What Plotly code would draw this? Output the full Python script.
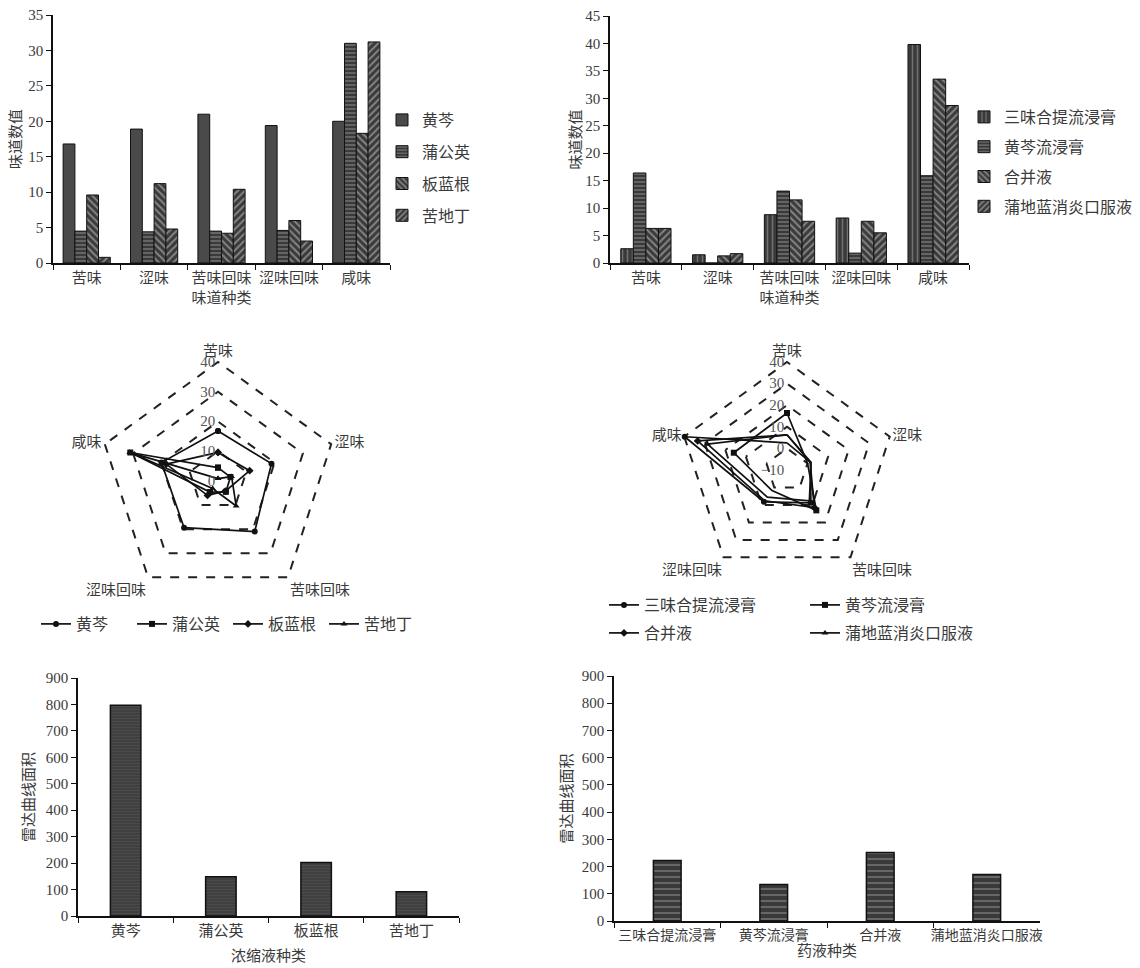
import plotly.graph_objects as go

# ---- data ----
tastes = ["苦味", "涩味", "苦味回味", "涩味回味", "咸味"]

conc_names = ["黄芩", "蒲公英", "板蓝根", "苦地丁"]
conc_huangqin = [16.8, 18.9, 21.0, 19.4, 20.0]
conc_pugongying = [4.5, 4.4, 4.5, 4.6, 31.0]
conc_banlangen = [9.6, 11.2, 4.2, 6.0, 18.3]
conc_kudiding = [0.8, 4.8, 10.4, 3.1, 31.2]

liquid_names = ["三味合提流浸膏", "黄芩流浸膏", "合并液", "蒲地蓝消炎口服液"]
liq_sanwei = [2.6, 1.5, 8.8, 8.2, 39.8]
liq_huangqin = [16.4, 0.0, 13.1, 1.8, 15.9]
liq_hebing = [6.3, 1.3, 11.5, 7.6, 33.5]
liq_pudilan = [6.3, 1.7, 7.6, 5.5, 28.7]

conc_area = [797, 148, 202, 92]
liquid_area = [222, 134, 252, 171]

# ---- styling ----
FONT = "Liberation Serif, Noto Sans CJK SC, serif"
TXT = "#3a3a3a"
W, H = 1140, 968


def fx(px):
    return px / W


def fy(py):
    return 1 - py / H


conc_series = [conc_huangqin, conc_pugongying, conc_banlangen, conc_kudiding]
liq_series = [liq_sanwei, liq_huangqin, liq_hebing, liq_pudilan]

conc_patterns = [
    dict(shape=""),
    dict(shape="-", bgcolor="#3a3a3a", fgcolor="#c8c8c8", size=4, solidity=0.3),
    dict(shape="\\", bgcolor="#3a3a3a", fgcolor="#d0d0d0", size=5, solidity=0.4),
    dict(shape="/", bgcolor="#3a3a3a", fgcolor="#d0d0d0", size=5, solidity=0.4),
]
liq_patterns = [
    dict(shape="|", bgcolor="#3a3a3a", fgcolor="#a8a8a8", size=5, solidity=0.3),
    dict(shape="-", bgcolor="#3a3a3a", fgcolor="#c8c8c8", size=4, solidity=0.3),
    dict(shape="\\", bgcolor="#3a3a3a", fgcolor="#d0d0d0", size=5, solidity=0.4),
    dict(shape="/", bgcolor="#3a3a3a", fgcolor="#d0d0d0", size=5, solidity=0.4),
]

conc_symbols = ["circle", "square", "diamond", "triangle-up"]
liq_symbols = ["circle", "square", "diamond", "triangle-up"]

fig = go.Figure()

# top-left grouped bars
for name, vals, pat in zip(conc_names, conc_series, conc_patterns):
    fig.add_trace(go.Bar(
        x=tastes, y=vals, name=name, xaxis="x", yaxis="y",
        marker=dict(color="#4a4a4a", line=dict(color="#111", width=1), pattern=pat),
        legend="legend", legendgroup="c_" + name,
    ))

# top-right grouped bars
for name, vals, pat in zip(liquid_names, liq_series, liq_patterns):
    fig.add_trace(go.Bar(
        x=tastes, y=vals, name=name, xaxis="x2", yaxis="y2",
        marker=dict(color="#4a4a4a", line=dict(color="#111", width=1), pattern=pat),
        legend="legend2", legendgroup="l_" + name,
    ))

# radar charts
for name, vals, sym in zip(conc_names, conc_series, conc_symbols):
    fig.add_trace(go.Scatterpolar(
        r=list(vals) + [vals[0]], theta=tastes + [tastes[0]], name=name,
        mode="lines+markers", subplot="polar",
        line=dict(color="#111", width=1.7),
        marker=dict(symbol=sym, size=6, color="#111"),
        legend="legend3",
    ))

for i, (name, vals, sym) in enumerate(zip(liquid_names, liq_series, liq_symbols)):
    fig.add_trace(go.Scatterpolar(
        r=list(vals) + [vals[0]], theta=tastes + [tastes[0]], name=name,
        mode="lines+markers", subplot="polar2",
        line=dict(color="#111", width=1.7),
        marker=dict(symbol=sym, size=6, color="#111"),
        legend="legend4" if i < 2 else "legend5",
    ))

# bottom bars: radar area
fig.add_trace(go.Bar(
    x=conc_names, y=conc_area, xaxis="x3", yaxis="y3", width=0.32, showlegend=False,
    marker=dict(color="#424242", line=dict(color="#111", width=1.5),
                pattern=dict(shape="-", bgcolor="#404040", fgcolor="#585858", size=3, solidity=0.3)),
))
fig.add_trace(go.Bar(
    x=liquid_names, y=liquid_area, xaxis="x4", yaxis="y4", width=0.26, showlegend=False,
    marker=dict(color="#3c3c3c", line=dict(color="#111", width=1.5),
                pattern=dict(shape="-", bgcolor="#3a3a3a", fgcolor="#cfcfcf", size=6, solidity=0.2)),
))

tickfont = dict(family=FONT, size=15, color=TXT)
titlefont = dict(family=FONT, size=15, color=TXT)


def xax(domain, anchor, title, standoff=2, fsize=15):
    return dict(domain=domain, anchor=anchor, type="category", showline=True,
                linecolor="#111", linewidth=1.5, ticks="outside", tickson="boundaries",
                ticklen=5, tickcolor="#111", tickangle=0, automargin=False,
                tickfont=dict(family=FONT, size=fsize, color=TXT), showgrid=False,
                title=dict(text=title, font=titlefont, standoff=standoff))


def yax(domain, anchor, rng, dtick, title, standoff=8):
    return dict(domain=domain, anchor=anchor, range=rng, dtick=dtick, showline=True,
                linecolor="#111", linewidth=1.5, ticks="outside", ticklen=5,
                tickcolor="#111", tickfont=tickfont, showgrid=False, zeroline=False,
                automargin=False,
                title=dict(text=title, font=titlefont, standoff=standoff))


def polar(cx, cy, radius, rng, tickvals):
    return dict(
        domain=dict(x=[fx(cx - radius), fx(cx + radius)], y=[fy(cy + radius), fy(cy - radius)]),
        gridshape="linear", bgcolor="white",
        angularaxis=dict(direction="clockwise", rotation=90, showgrid=False, showline=False,
                         ticks="", tickfont=dict(family=FONT, size=15, color=TXT)),
        radialaxis=dict(range=rng, tickvals=tickvals, angle=90, tickangle=90,
                        side="counterclockwise",
                        showline=False, ticks="", gridcolor="#222", griddash="dash",
                        gridwidth=1.6, tickfont=dict(family=FONT, size=15, color="#555")),
    )


legend_common = dict(font=dict(family=FONT, size=16, color=TXT), bgcolor="rgba(0,0,0,0)",
                     xanchor="left", yanchor="top")

fig.update_layout(
    width=W, height=H, margin=dict(l=0, r=0, t=0, b=0),
    paper_bgcolor="white", plot_bgcolor="white",
    barmode="group", bargap=0.3, bargroupgap=0,
    font=dict(family=FONT, color=TXT),
    xaxis=xax([fx(53), fx(390)], "y", "味道种类", 8),
    yaxis=yax([fy(263), fy(15)], "x", [0, 35], 5, "味道数值", 3),
    xaxis2=xax([fx(610), fx(969)], "y2", "味道种类", 8),
    yaxis2=yax([fy(263), fy(16)], "x2", [0, 45], 5, "味道数值", 0),
    xaxis3=xax([fx(78), fx(459)], "y3", "浓缩液种类", 13),
    yaxis3=yax([fy(916), fy(678)], "x3", [0, 900], 100, "雷达曲线面积", 8),
    xaxis4=xax([fx(614), fx(1040)], "y4", "药液种类", 4, 14),
    yaxis4=yax([fy(921), fy(676)], "x4", [0, 900], 100, "雷达曲线面积", 6),
    # the outer bound sits one unit past the last ring so that ring gets drawn
    polar=polar(218, 481, 119 * 41 / 40, [0, 41], [0, 10, 20, 30, 40]),
    polar2=polar(787, 470, 108 * 51 / 50, [-10, 41], [-10, 0, 10, 20, 30, 40]),
    legend=dict(legend_common, x=fx(382), y=fy(103), tracegroupgap=8, itemwidth=30),
    legend2=dict(legend_common, x=fx(964), y=fy(100), tracegroupgap=6, itemwidth=30),
    legend3=dict(legend_common, x=fx(36), y=fy(607), orientation="h",
                 entrywidth=51, entrywidthmode="pixels", itemwidth=30),
    legend4=dict(legend_common, x=fx(604), y=fy(588), orientation="h",
                 entrywidth=156, entrywidthmode="pixels", itemwidth=30),
    legend5=dict(legend_common, x=fx(604), y=fy(616), orientation="h",
                 entrywidth=156, entrywidthmode="pixels", itemwidth=30),
)

fig.write_html("out.html")
